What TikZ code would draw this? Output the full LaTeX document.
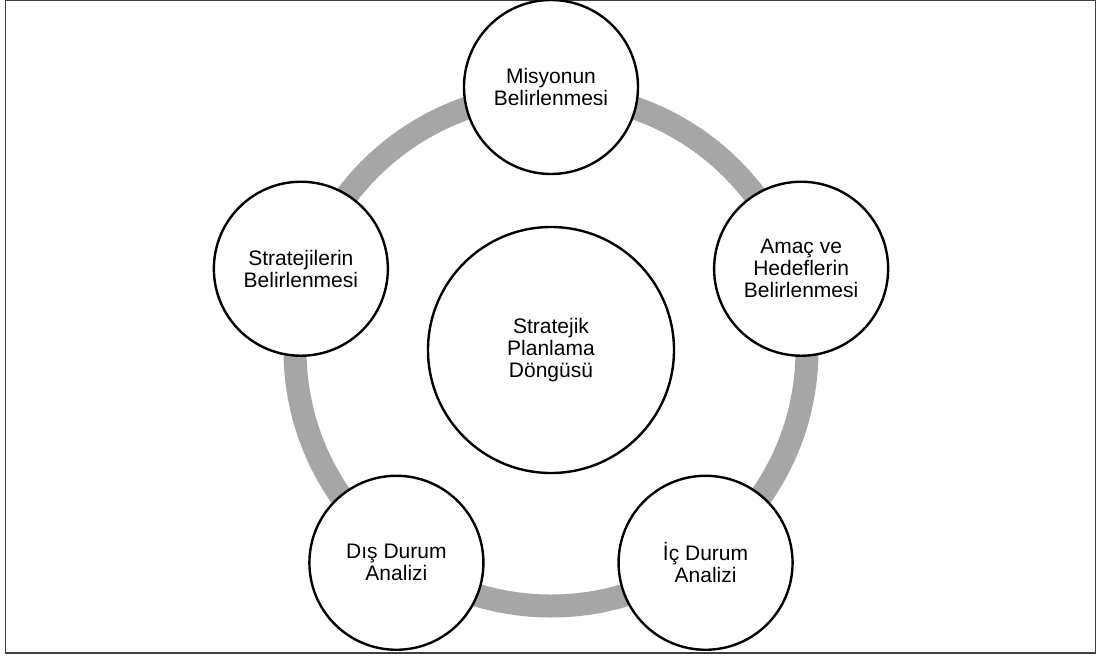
\documentclass[tikz,border=0pt]{standalone}
\usepackage{fontspec}
\setmainfont{Liberation Sans}
\definecolor{ringgray}{RGB}{166,166,166}
\definecolor{framegray}{RGB}{64,64,64}

\begin{document}
\begin{tikzpicture}[x=1pt, y=1pt,
    stage/.style={circle, draw, fill=white, line width=2.4pt, minimum size=174pt, inner sep=0pt, align=center, font=\fontsize{21}{22}\selectfont},
    hub node/.style={stage, minimum size=246pt},
    ring/.style={draw=ringgray, line width=23pt}]
    \useasboundingbox (-551,-307) rectangle (546,350);
    \draw[framegray, line width=1.3pt] (-545.3,-303) rectangle (544.5,349.3);

    % the cycle runs behind the five stages
    \coordinate (O) at (0,0);
    \draw[ring] (O) circle (256pt);

    \node[hub node] (hub) at (O) {Stratejik\\Planlama\\Döngüsü};
    \node[stage] (mission) at (90:263pt) {Misyonun\\Belirlenmesi};
    \node[stage] (goals) at (18:263pt) {Amaç ve\\Hedeflerin\\Belirlenmesi};
    \node[stage] (internal) at (-54:263pt) {İç Durum\\Analizi};
    \node[stage] (external) at (-126:263pt) {Dış Durum\\Analizi};
    \node[stage] (strategy) at (162:263pt) {Stratejilerin\\Belirlenmesi};
\end{tikzpicture}
\end{document}
